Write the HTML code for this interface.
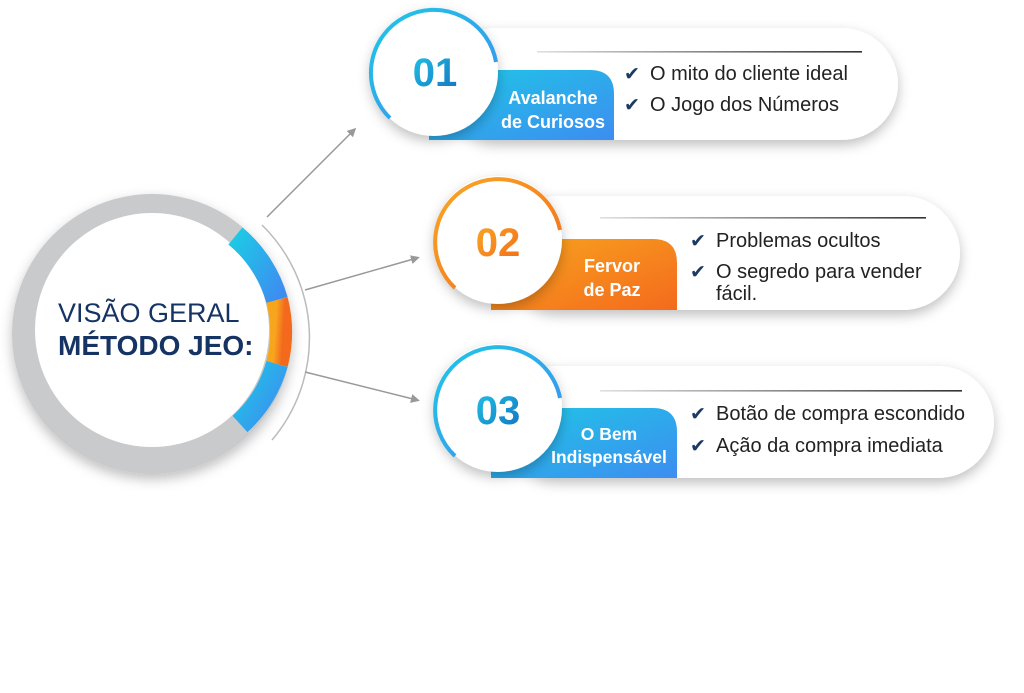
<!DOCTYPE html>
<html><head><meta charset="utf-8"><style>
html,body{margin:0;padding:0;background:#fff;width:1024px;height:693px;overflow:hidden}
svg{display:block}
text{font-family:"Liberation Sans","DejaVu Sans",sans-serif}
</style></head><body>
<svg width="1024" height="693" viewBox="0 0 1024 693" xmlns="http://www.w3.org/2000/svg">
<defs>
<linearGradient id="cy" x1="0" y1="0" x2="1" y2="1"><stop offset="0" stop-color="#1ec8e6"/><stop offset="1" stop-color="#3d8df0"/></linearGradient>
<linearGradient id="or" x1="0" y1="0" x2="1" y2="1"><stop offset="0" stop-color="#f8a51e"/><stop offset="1" stop-color="#f46a1d"/></linearGradient>
<linearGradient id="ncy" x1="0" y1="0" x2="1" y2="1"><stop offset="0" stop-color="#22c3e6"/><stop offset="1" stop-color="#1272c0"/></linearGradient>
<linearGradient id="nor" x1="0" y1="0" x2="1" y2="1"><stop offset="0" stop-color="#f9a825"/><stop offset="1" stop-color="#f26b1b"/></linearGradient>
<linearGradient id="ln" x1="0" x2="1" y1="0" y2="0"><stop offset="0" stop-color="#e0e0e0"/><stop offset="1" stop-color="#333"/></linearGradient>
<filter id="sh" x="-20%" y="-30%" width="140%" height="170%"><feDropShadow dx="0" dy="5" stdDeviation="6" flood-color="#000" flood-opacity="0.25"/></filter>
<marker id="ar" markerWidth="9" markerHeight="9" refX="6" refY="4.5" orient="auto" markerUnits="userSpaceOnUse"><path d="M0,0 L9,4.5 L0,9 Z" fill="#999"/></marker>
</defs>

<!-- main circle -->
<path d="M262,225 A158,158 0 0 1 272,440" fill="none" stroke="#bbb" stroke-width="1.5"/>
<circle cx="152" cy="334" r="140" fill="#c9cacc" filter="url(#sh)"/>
<circle cx="152" cy="330" r="117" fill="#fff"/>
<path d="M235.4,236 A128,128 0 0 1 277,300" fill="none" stroke="url(#cy)" stroke-width="22"/>
<path d="M277,300 A128,128 0 0 1 277,364" fill="none" stroke="url(#or)" stroke-width="22"/>
<path d="M277,364 A128,128 0 0 1 240,424" fill="none" stroke="url(#cy)" stroke-width="22"/>
<text x="58" y="322" font-size="27" fill="#163463">VISÃO GERAL</text>
<text x="58" y="355" font-size="28" font-weight="bold" fill="#163463">MÉTODO JEO:</text>

<!-- connectors -->
<line x1="267" y1="217" x2="354" y2="130" stroke="#999" stroke-width="1.5" marker-end="url(#ar)"/>
<line x1="305" y1="290" x2="417" y2="258" stroke="#999" stroke-width="1.5" marker-end="url(#ar)"/>
<line x1="305" y1="372" x2="417" y2="400" stroke="#999" stroke-width="1.5" marker-end="url(#ar)"/>

<!-- card 1 -->
<rect x="440" y="28" width="458" height="112" rx="56" fill="#fff" filter="url(#sh)"/>
<rect x="537" y="51" width="325" height="1.6" fill="url(#ln)"/>
<path d="M429,140 L429,70 L590,70 Q614,70 614,94 L614,140 Z" fill="url(#cy)"/>
<circle cx="434" cy="72" r="64" fill="#fff" filter="url(#sh)"/>
<path d="M390,118 A63,63 0 1 1 496,62" fill="none" stroke="url(#cy)" stroke-width="4"/>
<text x="435" y="86" font-size="40" font-weight="bold" fill="url(#ncy)" text-anchor="middle">01</text>
<text x="553" y="104" font-size="18" font-weight="bold" fill="#fff" text-anchor="middle">Avalanche</text>
<text x="553" y="128" font-size="18" font-weight="bold" fill="#fff" text-anchor="middle">de Curiosos</text>
<text x="624" y="80" font-size="19" font-weight="bold" fill="#1c3a63">✔</text>
<text x="650" y="80" font-size="20" fill="#222">O mito do cliente ideal</text>
<text x="624" y="111" font-size="19" font-weight="bold" fill="#1c3a63">✔</text>
<text x="650" y="111" font-size="20" fill="#222">O Jogo dos Números</text>

<!-- card 2 -->
<rect x="500" y="196" width="460" height="114" rx="57" fill="#fff" filter="url(#sh)"/>
<rect x="600" y="217" width="326" height="1.6" fill="url(#ln)"/>
<path d="M491,310 L491,239 L653,239 Q677,239 677,263 L677,310 Z" fill="url(#or)"/>
<circle cx="498" cy="240" r="64" fill="#fff" filter="url(#sh)"/>
<path d="M455,288 A63,63 0 1 1 560,230" fill="none" stroke="url(#nor)" stroke-width="4"/>
<text x="498" y="256" font-size="40" font-weight="bold" fill="url(#nor)" text-anchor="middle">02</text>
<text x="612" y="272" font-size="18" font-weight="bold" fill="#fff" text-anchor="middle">Fervor</text>
<text x="612" y="296" font-size="18" font-weight="bold" fill="#fff" text-anchor="middle">de Paz</text>
<text x="690" y="247" font-size="19" font-weight="bold" fill="#1c3a63">✔</text>
<text x="716" y="247" font-size="20" fill="#222">Problemas ocultos</text>
<text x="690" y="278" font-size="19" font-weight="bold" fill="#1c3a63">✔</text>
<text x="716" y="278" font-size="20" fill="#222">O segredo para vender</text>
<text x="716" y="300" font-size="20" fill="#222">fácil.</text>

<!-- card 3 -->
<rect x="500" y="366" width="494" height="112" rx="56" fill="#fff" filter="url(#sh)"/>
<rect x="600" y="390" width="362" height="1.6" fill="url(#ln)"/>
<path d="M491,478 L491,408 L653,408 Q677,408 677,432 L677,478 Z" fill="url(#cy)"/>
<circle cx="498" cy="408" r="64" fill="#fff" filter="url(#sh)"/>
<path d="M455,456 A63,63 0 1 1 560,398" fill="none" stroke="url(#cy)" stroke-width="4"/>
<text x="498" y="424" font-size="40" font-weight="bold" fill="url(#ncy)" text-anchor="middle">03</text>
<text x="609" y="440" font-size="17.5" font-weight="bold" fill="#fff" text-anchor="middle">O Bem</text>
<text x="609" y="463" font-size="17.5" font-weight="bold" fill="#fff" text-anchor="middle">Indispensável</text>
<text x="690" y="420" font-size="19" font-weight="bold" fill="#1c3a63">✔</text>
<text x="716" y="420" font-size="20" fill="#222">Botão de compra escondido</text>
<text x="690" y="452" font-size="19" font-weight="bold" fill="#1c3a63">✔</text>
<text x="716" y="452" font-size="20" fill="#222">Ação da compra imediata</text>
</svg>
</body></html>
